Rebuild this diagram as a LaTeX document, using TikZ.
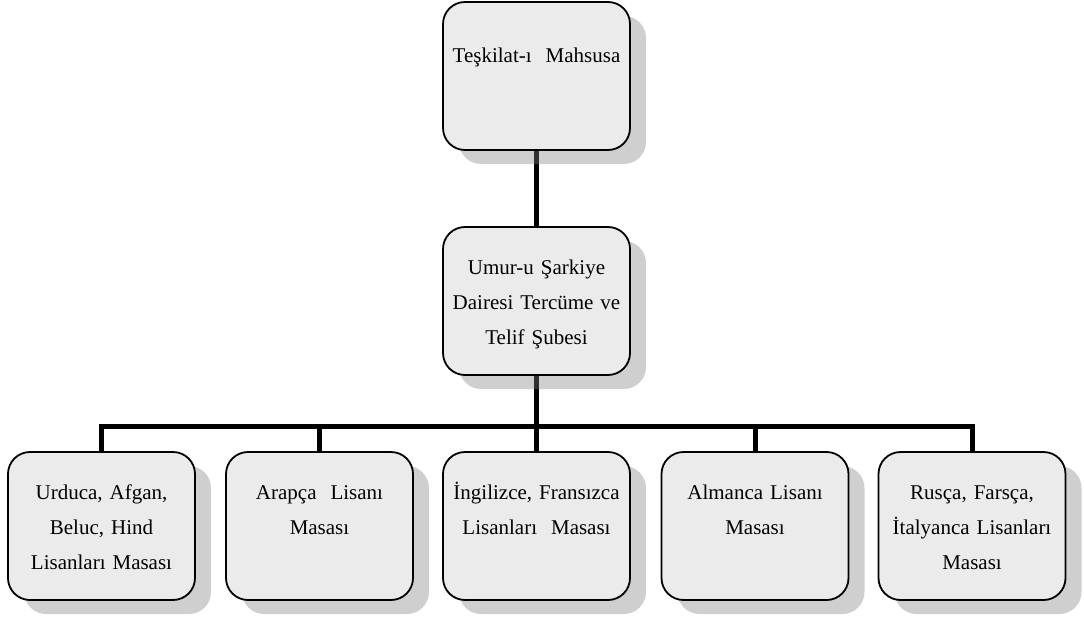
\documentclass[tikz,border=0pt]{standalone}
\usepackage{fontspec}
\setmainfont{Liberation Serif}
\usetikzlibrary{shadows,backgrounds}

\begin{document}
\begin{tikzpicture}
  [x=1pt,y=-1pt,every node/.style={draw,line width=1.8pt,rounded corners=22pt,fill=black!8,
    inner sep=0pt,text width=187pt,align=center,text height=47pt,text depth=101pt,
    font=\fontsize{21}{35}\selectfont,
    drop shadow={shadow xshift=16pt,shadow yshift=-14pt,fill=black!50,opacity=.38}},
   link/.style={line width=5pt}]
  \useasboundingbox (0,0) rectangle (1084,623);

  \node (1) at (536.5,76) [text height=61pt,text depth=87pt] {Teşkilat-ı~ Mahsusa};
  \node (2) at (536.5,301) {Umur-u Şarkiye\\Dairesi Tercüme ve\\Telif Şubesi};
  \node (3) at (101.5,526) {Urduca, Afgan,\\Beluc, Hind\\Lisanları Masası};
  \node (4) at (319.5,526) {Arapça~ Lisanı\\Masası};
  \node (5) at (536.5,526) {İngilizce, Fransızca\\Lisanları~ Masası};
  \node (6) at (755,526)  {Almanca Lisanı\\Masası};
  \node (7) at (972,526)  {Rusça, Farsça,\\İtalyanca Lisanları\\Masası};

  \coordinate (bus) at (536.5,426);

  \begin{scope}[on background layer]
    \draw[link] (1) -- (2);
    \foreach \to in {3,...,7}
      \draw[link] (2.south) -- (bus) -| (\to.north);
  \end{scope}

\end{tikzpicture}
\end{document}
